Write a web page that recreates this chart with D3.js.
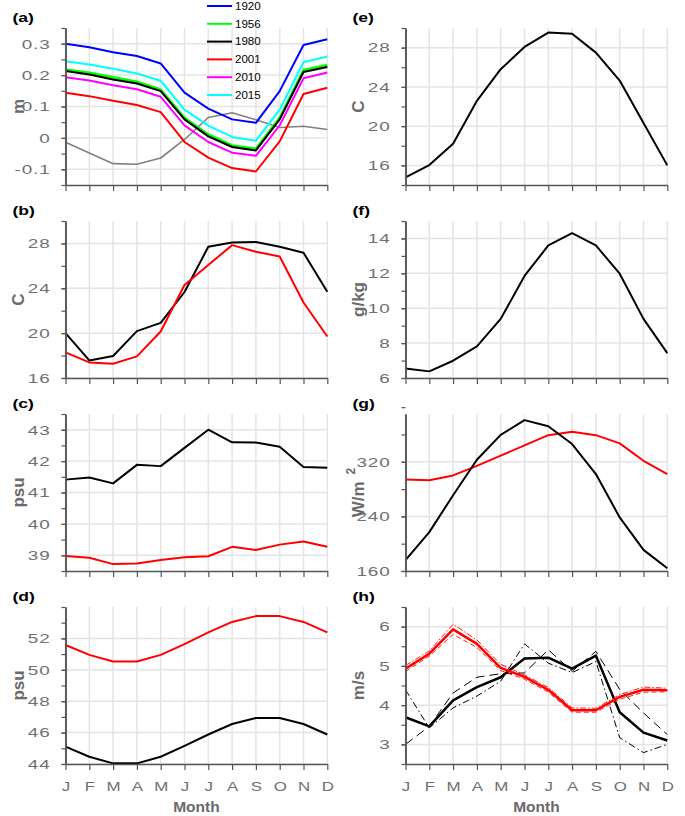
<!DOCTYPE html>
<html><head><meta charset="utf-8">
<script src="https://cdn.jsdelivr.net/npm/d3@7"></script>
<style>body{margin:0;background:#fff} svg{display:block;font-family:"Liberation Sans",Arial,Helvetica,sans-serif}</style>
</head><body><svg id="c" width="685" height="816"></svg>
<script>
// ---------- data ----------
const months = ["J","F","M","A","M","J","J","A","S","O","N","D"];
const legendYears = ["1920","1956","1980","2001","2010","2015"];
// (a) sea level, m
const a1920 = [0.300,0.289,0.273,0.261,0.237,0.144,0.093,0.059,0.048,0.149,0.296,0.314];
const a1956 = [0.218,0.207,0.193,0.179,0.154,0.064,0.011,-0.024,-0.035,0.064,0.216,0.232];
const a1980 = [0.213,0.202,0.186,0.173,0.149,0.059,0.005,-0.029,-0.040,0.059,0.210,0.226];
const a2001 = [0.144,0.133,0.118,0.105,0.082,-0.013,-0.063,-0.096,-0.107,-0.011,0.140,0.160];
const a2010 = [0.193,0.183,0.168,0.155,0.131,0.040,-0.013,-0.047,-0.057,0.040,0.190,0.208];
const a2015 = [0.244,0.234,0.220,0.205,0.182,0.090,0.039,0.003,-0.009,0.090,0.241,0.259];
const aGray = [-0.014,-0.048,-0.082,-0.084,-0.064,-0.005,0.065,0.080,0.058,0.033,0.037,0.027];
// (b) temperature, C
const bBlack = [20.0,17.57,17.96,20.18,20.92,23.67,27.7,28.09,28.12,27.7,27.17,23.7];
const bRed = [18.28,17.39,17.27,17.93,20.15,24.3,26.07,27.85,27.26,26.84,22.73,19.7];
// (c) salinity, psu
const cBlack = [41.41,41.48,41.29,41.88,41.84,42.42,43.0,42.6,42.59,42.46,41.81,41.79];
const cRed = [38.98,38.92,38.72,38.74,38.85,38.94,38.97,39.27,39.17,39.34,39.44,39.27];
// (d) salinity, psu
const dRed = [51.58,50.95,50.53,50.53,50.95,51.64,52.38,53.05,53.42,53.42,53.05,52.38];
const dBlack = [45.11,44.46,44.04,44.04,44.46,45.15,45.88,46.55,46.93,46.93,46.55,45.88];
// (e) air temperature, C
const eBlack = [14.78,16.03,18.2,22.58,25.8,28.07,29.53,29.42,27.49,24.64,20.31,16.0];
// (f) humidity, g/kg
const fBlack = [6.55,6.38,6.99,7.81,9.39,11.85,13.6,14.3,13.6,11.98,9.39,7.43];
// (g) radiation, W/m2
const gBlack = [176,217,271,323,359.5,381,372,346,302,238.5,191,164];
const gRed = [294,293,300,314,329,344,359,364,359,347,321.5,302];
// (h) wind speed, m/s
const hBlack = [3.69,3.46,4.12,4.46,4.71,5.19,5.21,4.93,5.26,3.82,3.30,3.10];
const hBlackDash = [3.0,3.46,4.31,4.71,4.80,4.82,5.41,4.86,5.37,4.40,3.80,3.25];
const hBlackDashDot = [4.39,3.42,3.93,4.23,4.61,5.56,5.07,4.83,5.11,3.17,2.79,3.0];
const hRed = [4.93,5.31,5.93,5.56,4.95,4.72,4.39,3.87,3.87,4.21,4.39,4.38];
const hRedDashDot = [5.01,5.38,6.06,5.66,5.04,4.77,4.45,3.93,3.92,4.27,4.46,4.43];
const hRedDash = [4.86,5.25,5.80,5.47,4.88,4.66,4.33,3.82,3.82,4.15,4.33,4.34];

// ---------- panel definitions ----------
const f1 = d => d === 0 ? "0" : d.toFixed(1);
const f0 = d => String(d);
const panels = [
  {tag:"(a)", yl:"m", col:0, row:0, dom:[-0.15,0.35], major:[-0.1,0,0.1,0.2,0.3], minorStep:0.05, fmt:f1,
   series:[{v:aGray,c:"#808080",w:1.6},{v:a1920,c:"#0000ff",w:2},{v:a1956,c:"#00ff00",w:2.6},{v:a1980,c:"#000000",w:2},
           {v:a2001,c:"#ff0000",w:2},{v:a2010,c:"#ff00ff",w:2},{v:a2015,c:"#00ffff",w:2}]},
  {tag:"(b)", yl:"C", col:0, row:1, dom:[16,30], major:[16,20,24,28], minorStep:2, fmt:f0,
   series:[{v:bBlack,c:"#000",w:2},{v:bRed,c:"#ff0000",w:2}]},
  {tag:"(c)", yl:"psu", col:0, row:2, dom:[38.5,43.5], major:[39,40,41,42,43], minorStep:0.5, fmt:f0,
   series:[{v:cBlack,c:"#000",w:2},{v:cRed,c:"#ff0000",w:2}]},
  {tag:"(d)", yl:"psu", col:0, row:3, dom:[44,54], major:[44,46,48,50,52], minorStep:1, fmt:f0,
   series:[{v:dRed,c:"#ff0000",w:2},{v:dBlack,c:"#000",w:2}]},
  {tag:"(e)", yl:"C", col:1, row:0, dom:[14,30], major:[16,20,24,28], minorStep:2, fmt:f0,
   series:[{v:eBlack,c:"#000",w:2}]},
  {tag:"(f)", yl:"g/kg", col:1, row:1, dom:[6,15], major:[6,8,10,12,14], minorStep:1, fmt:f0,
   series:[{v:fBlack,c:"#000",w:2}]},
  {tag:"(g)", yl:"W/m", sup:"2", col:1, row:2, dom:[160,390], major:[160,240,320], minorStep:40, fmt:f0,
   series:[{v:gRed,c:"#ff0000",w:2},{v:gBlack,c:"#000",w:2}]},
  {tag:"(h)", yl:"m/s", col:1, row:3, dom:[2.5,6.5], major:[3,4,5,6], minorStep:0.5, fmt:f0,
   series:[{v:hBlackDash,c:"#000",w:1,dash:"9,5"},{v:hBlackDashDot,c:"#000",w:1,dash:"7,3,1.5,3"},
           {v:hBlack,c:"#000",w:2.5},
           {v:hRedDash,c:"#ff0000",w:0.9,dash:"5,3"},{v:hRedDashDot,c:"#ff0000",w:0.9,dash:"6,2,1.5,2"},
           {v:hRed,c:"#ff0000",w:2.5}]}
];

// ---------- layout ----------
const colX = [[65.5,327.3],[405.5,667.3]];
const rowTop = [28,221,414,607];
const H = 157;
const gridC = "#e4e4e4", axisC = "#555", tickTxt = "#707070", labC = "#6a6a6a";
const svg = d3.select("#c");

function stretch(sel, k){
  sel.each(function(){
    const t = d3.select(this);
    const xx = +t.attr("x") || 0;
    t.attr("x",0).attr("transform",`translate(${xx},0) scale(${k},1)`);
  });
}

panels.forEach(p => {
  const [x0,x1] = colX[p.col];
  const top = rowTop[p.row], bot = top + H;
  const x = d3.scaleLinear().domain([1,12]).range([x0,x1]);
  const y = d3.scaleLinear().domain(p.dom).range([bot,top]);
  const g = svg.append("g");
  const mIdx = d3.range(1,13);
  // grid
  g.append("g").selectAll("line").data(mIdx).join("line")
    .attr("x1",d=>x(d)).attr("x2",d=>x(d)).attr("y1",top).attr("y2",bot)
    .attr("stroke",gridC).attr("stroke-width",1.5);
  g.append("g").selectAll("line").data(p.major).join("line")
    .attr("x1",x0).attr("x2",x1).attr("y1",d=>y(d)).attr("y2",d=>y(d))
    .attr("stroke",gridC).attr("stroke-width",1.5);
  // series
  const line = d3.line().x((d,i)=>x(i+1)).y(d=>y(d));
  p.series.forEach(s => {
    g.append("path").datum(s.v).attr("d",line).attr("fill","none")
      .attr("stroke",s.c).attr("stroke-width",s.w)
      .attr("stroke-dasharray",s.dash||null).attr("stroke-linejoin","round");
  });
  // minor y ticks
  const n = Math.round((p.dom[1]-p.dom[0])/p.minorStep);
  const minor = d3.range(0,n+1).map(i => +(p.dom[0]+i*p.minorStep).toFixed(6));
  const yMinor = g.append("g").attr("transform",`translate(${x0},0)`)
    .call(d3.axisLeft(y).tickValues(minor).tickSize(4).tickSizeOuter(0).tickFormat(""));
  const yMajor = g.append("g").attr("transform",`translate(${x0},0)`)
    .call(d3.axisLeft(y).tickValues(p.major).tickSize(4).tickSizeOuter(0).tickPadding(11).tickFormat(p.fmt));
  const xAx = g.append("g").attr("transform",`translate(0,${bot})`)
    .call(d3.axisBottom(x).tickValues(mIdx).tickSize(6).tickSizeOuter(0).tickPadding(11)
      .tickFormat(p.row===3 ? (d=>months[d-1]) : ""));
  [yMinor,yMajor,xAx].forEach(a => {
    a.select(".domain").attr("stroke",axisC).attr("stroke-width",1.5);
    a.selectAll(".tick line").attr("stroke",axisC).attr("stroke-width",1.2);
    a.selectAll("text").attr("fill",tickTxt).attr("font-size",13.5)
      .attr("font-family",'"Liberation Sans",Arial,sans-serif');
  });
  stretch(yMajor.selectAll("text").attr("letter-spacing",0.6),1.4);
  stretch(xAx.selectAll("text"),1.25);
  // panel tag
  g.append("text").attr("transform",`translate(${x0-53},${top-6}) scale(1.3,1)`)
    .attr("font-size",13.5).attr("font-weight","bold").attr("fill","#000").text(p.tag);
  // y label
  const yl = g.append("text")
    .attr("transform",`translate(${x0-42},${top+H/2}) rotate(-90)`)
    .attr("text-anchor","middle").attr("font-size",17).attr("font-weight","bold")
    .attr("fill",labC);
  yl.append("tspan").text(p.yl);
  if (p.sup) yl.append("tspan").attr("dx",7).attr("dy",-9).attr("font-size",12).text(p.sup);
  // x label
  if (p.row===3) {
    g.append("text").attr("x",(x0+x1)/2).attr("y",bot+48).attr("text-anchor","middle")
      .attr("font-size",15.5).attr("font-weight","bold").attr("fill",labC).text("Month");
  }
});

// legend for (a)
const legColors = ["#0000ff","#00ff00","#000000","#ff0000","#ff00ff","#00ffff"];
const leg = svg.append("g");
legendYears.forEach((yr,i) => {
  const yy = 6 + i*17.8;
  leg.append("line").attr("x1",207).attr("x2",232).attr("y1",yy).attr("y2",yy)
    .attr("stroke",legColors[i]).attr("stroke-width",2);
  leg.append("text").attr("transform",`translate(235,${yy+3.8}) scale(1.1,1)`)
    .attr("font-size",10.5).attr("fill","#000").text(yr);
});
</script></body></html>
